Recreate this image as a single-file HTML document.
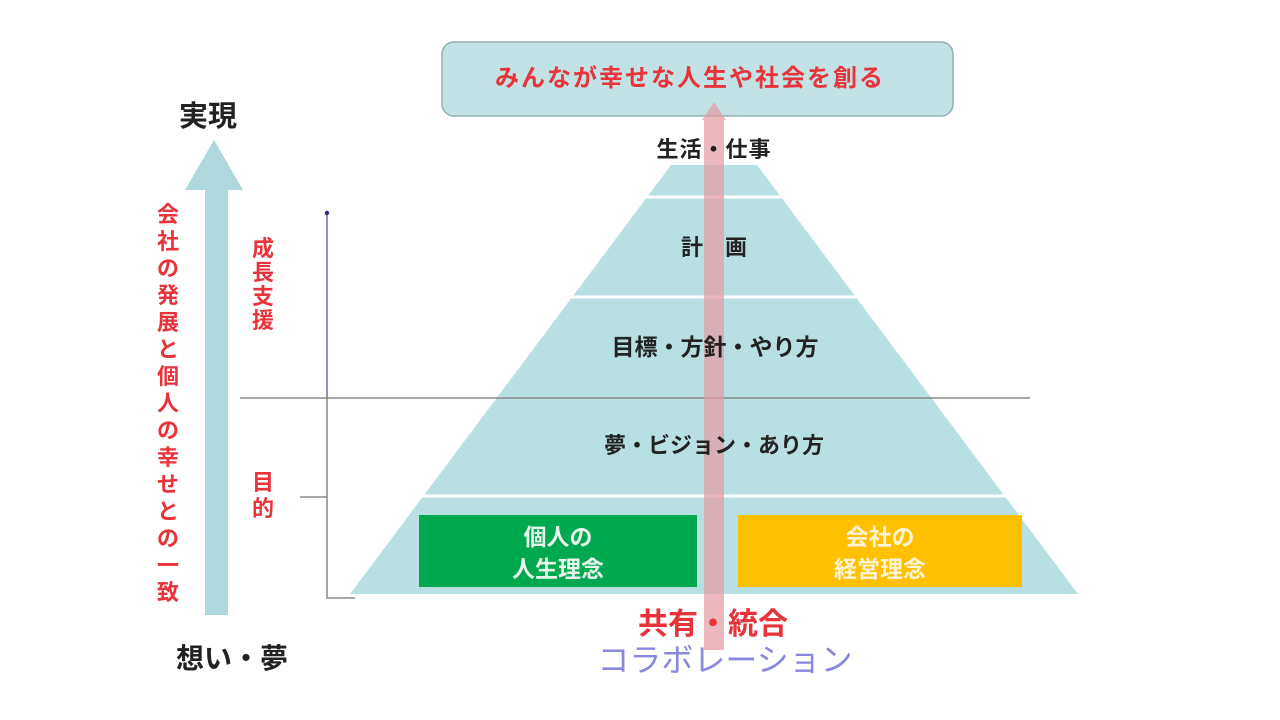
<!DOCTYPE html>
<html><head><meta charset="utf-8"><style>
html,body{margin:0;padding:0;background:#fff;width:1280px;height:720px;overflow:hidden}
svg text{font-family:"Liberation Sans","Noto Sans CJK JP",sans-serif;font-weight:bold}
</style></head><body>
<svg width="1280" height="720" viewBox="0 0 1280 720" xmlns="http://www.w3.org/2000/svg">
<polygon points="214,140 243,190 228,190 228,615 205,615 205,190 185,190" fill="#aed8db"/>
<text x="208" y="126" font-size="29" fill="#222" text-anchor="middle">実現</text>
<text x="232" y="668" font-size="28" fill="#222" text-anchor="middle">想い・夢</text>
<g font-size="22" fill="#e8333b" text-anchor="middle">
<text x="168" y="222">会</text><text x="168" y="249">社</text><text x="168" y="276">の</text><text x="168" y="303">発</text><text x="168" y="330">展</text><text x="168" y="357">と</text><text x="168" y="384">個</text><text x="168" y="411">人</text><text x="168" y="438">の</text><text x="168" y="465">幸</text><text x="168" y="492">せ</text><text x="168" y="519">と</text><text x="168" y="546">の</text><text x="168" y="573">一</text><text x="168" y="600">致</text>
<text x="263" y="256">成</text><text x="263" y="280">長</text><text x="263" y="304">支</text><text x="263" y="328">援</text>
<text x="263" y="490">目</text><text x="263" y="516">的</text>
</g>
<line x1="327" y1="214" x2="327" y2="398" stroke="#4a4a9a" stroke-width="1.2"/>
<circle cx="327" cy="213" r="2.2" fill="#2a2a7a"/>
<polyline points="327,398 327,598 355,598" fill="none" stroke="#888" stroke-width="1.5"/>
<line x1="300" y1="497" x2="327" y2="497" stroke="#888" stroke-width="1.5"/>
<polygon points="671,165 757,165 1078,594 350,594" fill="#b8dfe2"/>
<line x1="600" y1="197" x2="840" y2="197" stroke="#fff" stroke-width="3"/>
<line x1="520" y1="297" x2="910" y2="297" stroke="#fff" stroke-width="3"/>
<line x1="370" y1="496" x2="1060" y2="496" stroke="#fff" stroke-width="3"/>
<line x1="240" y1="398" x2="1030" y2="398" stroke="#888" stroke-width="1.5"/>
<rect x="419" y="515" width="278" height="72" fill="#00a94f"/>
<rect x="738" y="515" width="284" height="72" fill="#ffc000"/>
<g font-size="23" fill="#e8f5ec" text-anchor="middle">
<text x="558" y="545">個人の</text><text x="558" y="577">人生理念</text>
</g>
<g font-size="23" fill="#fff4d6" text-anchor="middle">
<text x="880" y="545">会社の</text><text x="880" y="577">経営理念</text>
</g>
<rect x="442" y="42" width="511" height="74" rx="12" fill="#c2e2e5" stroke="#8fb0b3" stroke-width="1.5"/>
<text x="690" y="86" font-size="24" letter-spacing="2" fill="#e8333b" text-anchor="middle">みんなが幸せな人生や社会を創る</text>
<polygon points="714,102 726,120 724,120 724,650 704,650 704,120 702,120" fill="#e49aa4" opacity="0.7"/>
<g font-size="22" fill="#222" text-anchor="middle">
<text x="714" y="157" letter-spacing="1">生活・仕事</text>
<text x="714" y="255">計　画</text>
<text x="715" y="355" font-size="23">目標・方針・やり方</text>
<text x="714" y="453">夢・ビジョン・あり方</text>
</g>
<text x="713" y="634" font-size="30" fill="#e8333b" text-anchor="middle" font-weight="normal">共有・統合</text>
<text x="725" y="671" font-size="32" fill="#8888dd" text-anchor="middle" style="font-weight:normal">コラボレーション</text>
</svg>
</body></html>
